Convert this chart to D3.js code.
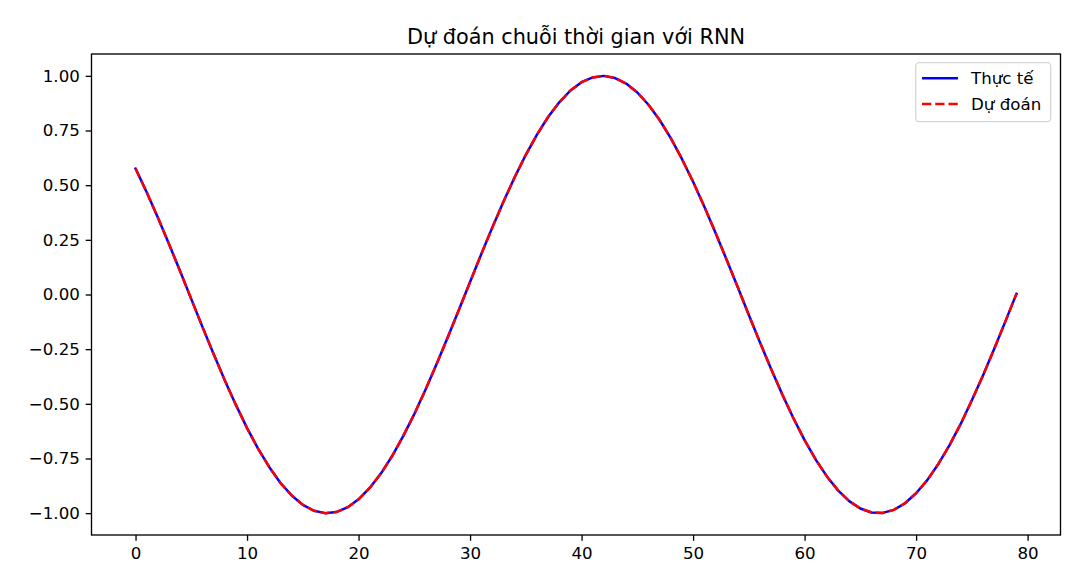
<!DOCTYPE html>
<html>
<head>
<meta charset="utf-8">
<script src="https://cdn.jsdelivr.net/npm/d3@7"></script>
<style>
  html, body { margin: 0; padding: 0; background: #fff; }
  text { font-family: "DejaVu Sans", sans-serif; fill: #000; }
</style>
</head>
<body>
<svg id="chart" width="1081" height="582"></svg>
<script>
const titleText = "Dự đoán chuỗi thời gian với RNN";
const seriesNames = ["Thực tế", "Dự đoán"];
const xTicks = [0, 10, 20, 30, 40, 50, 60, 70, 80];
const yTicks = [-1.00, -0.75, -0.50, -0.25, 0.00, 0.25, 0.50, 0.75, 1.00];

const actual = [
  0.576, 0.468, 0.352, 0.231, 0.106, -0.021, -0.148, -0.272, -0.392, -0.505,
  -0.611, -0.706, -0.790, -0.862, -0.919, -0.962, -0.989, -1.000, -0.995, -0.974,
  -0.937, -0.885, -0.819, -0.740, -0.648, -0.547, -0.436, -0.318, -0.196, -0.070,
  0.057, 0.184, 0.307, 0.425, 0.536, 0.639, 0.731, 0.812, 0.879, 0.933,
  0.971, 0.993, 1.000, 0.990, 0.965, 0.924, 0.868, 0.798, 0.715, 0.620,
  0.516, 0.403, 0.284, 0.160, 0.034, -0.094, -0.219, -0.341, -0.457, -0.566,
  -0.666, -0.755, -0.832, -0.896, -0.945, -0.979, -0.997, -0.999, -0.985, -0.955,
  -0.909, -0.849, -0.775, -0.689, -0.592, -0.484, -0.370, -0.249, -0.124, 0.003
];
const predicted = [
  0.576, 0.468, 0.352, 0.231, 0.106, -0.021, -0.148, -0.272, -0.392, -0.505,
  -0.611, -0.706, -0.790, -0.862, -0.919, -0.962, -0.989, -1.000, -0.995, -0.974,
  -0.937, -0.885, -0.819, -0.740, -0.648, -0.547, -0.436, -0.318, -0.196, -0.070,
  0.057, 0.184, 0.307, 0.425, 0.536, 0.639, 0.731, 0.812, 0.879, 0.933,
  0.971, 0.993, 1.000, 0.990, 0.965, 0.924, 0.868, 0.798, 0.715, 0.620,
  0.516, 0.403, 0.284, 0.160, 0.034, -0.094, -0.219, -0.341, -0.457, -0.566,
  -0.666, -0.755, -0.832, -0.896, -0.945, -0.979, -0.997, -0.999, -0.985, -0.955,
  -0.909, -0.849, -0.775, -0.689, -0.592, -0.484, -0.370, -0.249, -0.124, 0.003
];

(function () {
const svg = d3.select("#chart");
const mLeft = 91.5, mRight = 1060.5, mTop = 54, mBottom = 535;
const tickFont = "16.67px", titleFont = "20.8px";
const lw = 2.5, dash = "9.25,4";

const n = actual.length;
const xMargin = (n - 1) * 0.05;
const x = d3.scaleLinear().domain([-xMargin, (n - 1) + xMargin]).range([mLeft, mRight]);
const yMin = d3.min(actual.concat(predicted)), yMax = d3.max(actual.concat(predicted));
const yPad = (yMax - yMin) * 0.05;
const y = d3.scaleLinear().domain([yMin - yPad, yMax + yPad]).range([mBottom, mTop]);

const fmt = d3.format(".2f");
const xAxis = d3.axisBottom(x).tickValues(xTicks).tickSize(5.83).tickPadding(5.83).tickFormat(d3.format("d"));
const yAxis = d3.axisLeft(y).tickValues(yTicks).tickSize(5.83).tickPadding(5.83).tickFormat(fmt);

const gx = svg.append("g").attr("transform", `translate(0,${mBottom})`).call(xAxis);
const gy = svg.append("g").attr("transform", `translate(${mLeft},0)`).call(yAxis);
[gx, gy].forEach(g => {
  g.select(".domain").remove();
  g.selectAll(".tick line").attr("stroke", "#000").attr("stroke-width", 1.33);
  g.selectAll(".tick text").attr("font-family", "DejaVu Sans").attr("font-size", tickFont).attr("fill", "#000");
});
gx.selectAll(".tick text").attr("dy", "0.76em");

const idx = d3.range(n);
const line = arr => d3.line().x(i => x(i)).y(i => y(arr[i]))(idx);
const g = svg.append("g");
g.append("path").attr("d", line(actual)).attr("fill", "none")
  .attr("stroke", "#0000ff").attr("stroke-width", lw).attr("stroke-linejoin", "round").attr("stroke-linecap", "square");
g.append("path").attr("d", line(predicted)).attr("fill", "none")
  .attr("stroke", "#ff0000").attr("stroke-width", lw).attr("stroke-dasharray", dash);

svg.append("rect").attr("x", mLeft).attr("y", mTop).attr("width", mRight - mLeft).attr("height", mBottom - mTop)
  .attr("fill", "none").attr("stroke", "#000").attr("stroke-width", 1.33);

svg.append("text").attr("x", (mLeft + mRight) / 2).attr("y", 44).attr("text-anchor", "middle")
  .attr("font-size", titleFont).text(titleText);

const lg = svg.append("g");
lg.append("rect").attr("x", 915.7).attr("y", 62.7).attr("width", 135).attr("height", 59)
  .attr("rx", 3.5).attr("fill", "#fff").attr("fill-opacity", 0.8).attr("stroke", "#d6d6d6").attr("stroke-width", 1.33);
const legendItems = [
  { name: seriesNames[0], color: "#0000ff", dash: null, cy: 78.3 },
  { name: seriesNames[1], color: "#ff0000", dash: dash, cy: 104 }
];
legendItems.forEach(d => {
  const l = lg.append("line").attr("x1", 922).attr("x2", 958).attr("y1", d.cy).attr("y2", d.cy)
    .attr("stroke", d.color).attr("stroke-width", lw);
  if (d.dash) l.attr("stroke-dasharray", d.dash);
  lg.append("text").attr("x", 971).attr("y", d.cy).attr("dy", "0.35em").attr("font-size", tickFont).text(d.name);
});
})();
</script>
</body>
</html>
